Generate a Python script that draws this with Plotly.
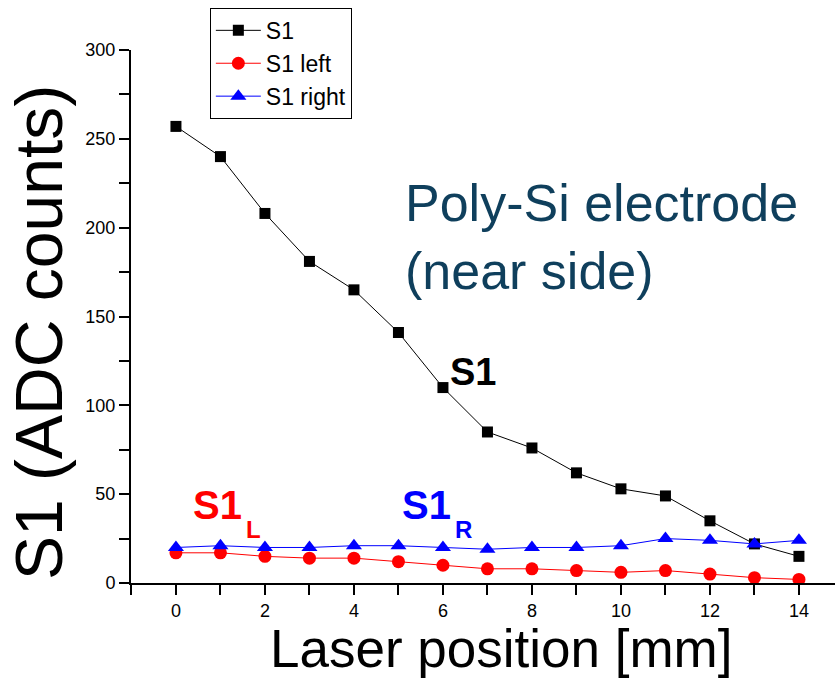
import plotly.graph_objects as go

positions = list(range(15))
s1 = [257, 240, 208, 181, 165, 141, 110, 85, 76, 62, 53, 49, 35, 22, 15]
s1_left = [17, 17, 15, 14, 14, 12, 10, 8, 8, 7, 6, 7, 5, 3, 2]
s1_right = [20, 21, 20, 20, 21, 21, 20, 19, 20, 20, 21, 25, 24, 22, 24]

FONT = "Liberation Sans, Arial, sans-serif"

fig = go.Figure()
fig.add_trace(go.Scatter(x=positions, y=s1, name="S1", mode="lines+markers",
                         line=dict(color="black", width=1),
                         marker=dict(symbol="square", size=11, color="black")))
fig.add_trace(go.Scatter(x=positions, y=s1_left, name="S1 left", mode="lines+markers",
                         line=dict(color="#ff0000", width=1),
                         marker=dict(symbol="circle", size=13, color="#ff0000")))
fig.add_trace(go.Scatter(x=positions, y=s1_right, name="S1 right", mode="lines+markers",
                         line=dict(color="#0000ff", width=1),
                         marker=dict(symbol="triangle-up", size=14, color="#0000ff")))

fig.add_annotation(x=5.1, y=195, xref="x", yref="y", xanchor="left", yanchor="middle",
                   align="left", showarrow=False,
                   text="Poly-Si electrode<br>(near side)",
                   font=dict(family=FONT, size=52, color="#0f3f5c"))
fig.add_annotation(x=6.12, y=119, xref="x", yref="y", xanchor="left", yanchor="middle",
                   showarrow=False, text="<b>S1</b>",
                   font=dict(family=FONT, size=38, color="black"))
# S1_L label
fig.add_annotation(x=0.33, y=44, xref="x", yref="y", xanchor="left", yanchor="middle",
                   showarrow=False, text="<b>S1</b>",
                   font=dict(family=FONT, size=40, color="#ff0000"))
fig.add_annotation(x=1.53, y=30, xref="x", yref="y", xanchor="left", yanchor="middle",
                   showarrow=False, text="<b>L</b>",
                   font=dict(family=FONT, size=24, color="#ff0000"))
# S1_R label
fig.add_annotation(x=5.03, y=44, xref="x", yref="y", xanchor="left", yanchor="middle",
                   showarrow=False, text="<b>S1</b>",
                   font=dict(family=FONT, size=40, color="#0000ff"))
fig.add_annotation(x=6.23, y=30, xref="x", yref="y", xanchor="left", yanchor="middle",
                   showarrow=False, text="<b>R</b>",
                   font=dict(family=FONT, size=24, color="#0000ff"))
# Axis titles
fig.add_annotation(x=-0.13, y=0.47, xref="paper", yref="paper", xanchor="center",
                   yanchor="middle", textangle=-90, showarrow=False,
                   text="S1 (ADC counts)", font=dict(family=FONT, size=66, color="black"))
fig.add_annotation(x=0.526, y=-0.18, xref="paper", yref="paper", xanchor="center",
                   yanchor="bottom", showarrow=False, borderpad=0,
                   text="Laser position [mm]", font=dict(family=FONT, size=53, color="black"))

fig.update_layout(
    width=835, height=679,
    margin=dict(l=131, r=0, t=50, b=96),
    paper_bgcolor="white", plot_bgcolor="white",
    font=dict(family=FONT, color="black"),
    showlegend=True,
    legend=dict(x=0.112, y=1.079, xanchor="left", yanchor="top",
                bordercolor="black", borderwidth=1, bgcolor="white",
                itemwidth=45,
                font=dict(family=FONT, size=23), tracegroupgap=0),
    xaxis=dict(range=[-1.01, 14.81], dtick=2, tick0=0, showgrid=False, zeroline=False,
               showline=True, linecolor="black", linewidth=2,
               ticks="outside", ticklen=10, tickwidth=2, tickcolor="black",
               minor=dict(dtick=1, tick0=0, ticks="outside", ticklen=10, tickwidth=2,
                          tickcolor="black", showgrid=False),
               tickfont=dict(family=FONT, size=18)),
    yaxis=dict(range=[0, 300], dtick=50, showgrid=False, zeroline=False,
               showline=True, linecolor="black", linewidth=2,
               ticks="outside", ticklen=10, tickwidth=2, tickcolor="black",
               minor=dict(dtick=25, ticks="outside", ticklen=10, tickwidth=2,
                          tickcolor="black", showgrid=False),
               tickfont=dict(family=FONT, size=18)),
)

fig.write_html("out.html")
